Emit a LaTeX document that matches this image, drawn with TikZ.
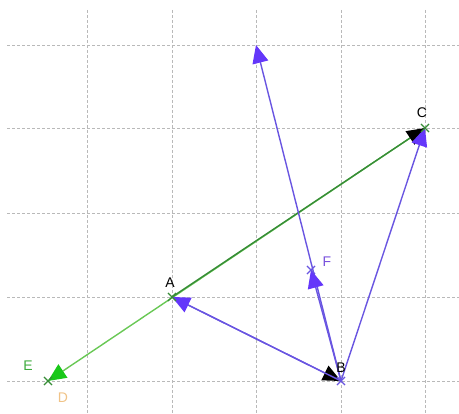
\documentclass[tikz,border=0pt]{standalone}
\usepackage{fontspec}
\setsansfont{Liberation Sans}
\usetikzlibrary{arrows.meta,shapes.misc}
\definecolor{gridc}{RGB}{185,185,185}
\definecolor{vblue}{RGB}{105,85,225}
\definecolor{ablue}{RGB}{100,55,250}
\definecolor{dgreen}{RGB}{55,140,55}
\definecolor{lgreen}{RGB}{105,200,85}
\definecolor{bgreen}{RGB}{25,200,25}
\definecolor{dlab}{RGB}{240,195,135}
\definecolor{elab}{RGB}{60,170,60}
\definecolor{flab}{RGB}{120,80,220}
\tikzset{
  gridline/.style={draw=gridc, dashed, dash pattern=on 3pt off 2pt, line width=0.7pt},
  vec/.style={line width=1.4pt, -{Triangle[length=18pt,width=16pt,color=#1,fill=#1]}},
  xmark/.style={cross out, draw=#1, minimum size=7pt, inner sep=0pt, line width=1.1pt},
  lab/.style={font=\sffamily\fontsize{14}{16}\selectfont, inner sep=0pt}
}
\begin{document}
\begin{tikzpicture}[x=1pt,y=-1pt]
\useasboundingbox (0,0) rectangle (459,414);
\foreach \yy in {45,128,213,297,381} \draw[gridline] (7,\yy) -- (459,\yy);
\foreach \xx in {87,172,256,341,425} \draw[gridline] (\xx,10) -- (\xx,414);

\coordinate (A) at (172,297);
\coordinate (B) at (341,381);
\coordinate (C) at (425,128);
\coordinate (D) at (48,381);
\coordinate (F) at (311,270);
\coordinate (T) at (256,45);

% green lines
\draw[vec=bgreen, draw=lgreen] (C) -- (D);
\draw[vec=black, draw=dgreen] (A) -- (C);

% blue lines
\draw[vec=ablue, draw=vblue] (B) -- (T);
\draw[vec=ablue, draw=vblue] (B) -- (F);
\draw[vec=ablue, draw=vblue] (B) -- (C);
\draw[vec=black, draw=vblue] (A) -- (B);
\draw[vec=ablue, draw=vblue] (B) -- (A);

% markers
\node[xmark=dgreen] (mA) at (A) {};
\node[xmark=vblue] (mB) at (B) {};
\node[xmark=dgreen] (mC) at (C) {};
\node[xmark=dgreen] (mD) at (D) {};
\node[xmark=vblue] (mF) at (F) {};

% labels
\node[lab] (lA) at (170,283) {A};
\node[lab] (lB) at (341,368) {B};
\node[lab] (lC) at (422,113) {C};
\node[lab, text=dlab] (lD) at (63,398) {D};
\node[lab, text=elab] (lE) at (28,366) {E};
\node[lab, text=flab] (lF) at (327,262) {F};
\end{tikzpicture}
\end{document}
